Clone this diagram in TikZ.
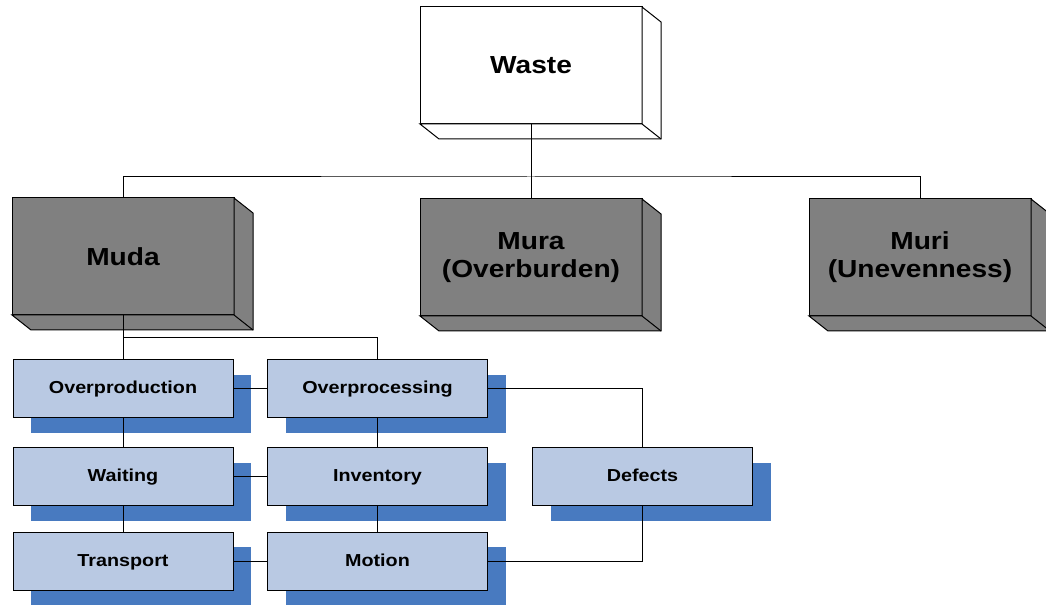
\documentclass[tikz,border=0pt]{standalone}
\usepackage{fontspec}
\setmainfont{Liberation Sans}[FakeStretch=1.14]
\begin{document}
\begin{tikzpicture}[x=0.75pt,y=-0.75pt,line width=0.75pt,
  big/.style={draw=black,fill=bigfill,minimum width=166.5pt,minimum height=87.75pt,
     inner sep=0pt,outer sep=0pt,font=\bfseries\fontsize{18.5}{21}\selectfont,align=center},
  small/.style={draw=black,fill=smallfill,minimum width=165pt,minimum height=43.5pt,
     inner sep=0pt,outer sep=0pt,text height=0.92em,text depth=0.2em,font=\bfseries\fontsize{13}{15}\selectfont},
  conn/.style={draw=black,line width=0.75pt}]
\definecolor{bigfill}{RGB}{128,128,128}
\definecolor{smallfill}{RGB}{185,201,227}
\definecolor{shadowc}{RGB}{72,122,192}
\useasboundingbox (0,0) rectangle (1046,605);
\clip (0,0) rectangle (1046,605);

% big boxes
\node[big,fill=white] (waste) at (531,65.5) {Waste};
\node[big] (muda) at (123,256.5) {Muda};
\node[big] (mura) at (531,257.5) {Mura\\(Overburden)};
\node[big] (muri) at (920,257.5) {Muri\\(Unevenness)};
\foreach \n/\c in {waste/white,muda/bigfill,mura/bigfill,muri/bigfill}{
  \filldraw[fill=\c,line join=miter] (\n.north east) -- ++(19,15) -- ++(0,117) -- ++(-222,0) -- (\n.south west) -- (\n.south east) -- cycle;
  \draw (\n.south east) -- ++(19,15);
}

% small boxes with shadows
\foreach \n/\x/\y/\t in {op/123/389/Overproduction, pr/377.5/389/Overprocessing,
   wa/123/477/Waiting, in/377.5/477/Inventory, tr/123/561.5/Transport,
   mo/377.5/561.5/Motion, de/642.5/477/Defects}{
  \fill[shadowc] (\x-110+18,\y-29+15) rectangle (\x+110+18,\y+29+15);
  \node[small] (\n) at (\x,\y) {\t};
}

% connectors
\coordinate (j1) at (531,177);
\draw[conn] (waste.south) -- (j1);
\draw[conn] (muda.north) |- (j1) -| (muri.north);
\draw[conn] (j1) -- (mura.north);
\coordinate (j2) at (123,338);
\draw[conn] (muda.south) -- (op.north);
\draw[conn] (j2) -| (pr.north);
\draw[conn] (op.east) -- (pr.west);
\draw[conn] (wa.east) -- (in.west);
\draw[conn] (tr.east) -- (mo.west);
\draw[conn] (op.south) -- (wa.north);
\draw[conn] (wa.south) -- (tr.north);
\draw[conn] (pr.south) -- (in.north);
\draw[conn] (in.south) -- (mo.north);
\draw[conn] (pr.east) -| (de.north);
\draw[conn] (mo.east) -| (de.south);
\end{tikzpicture}
\end{document}
